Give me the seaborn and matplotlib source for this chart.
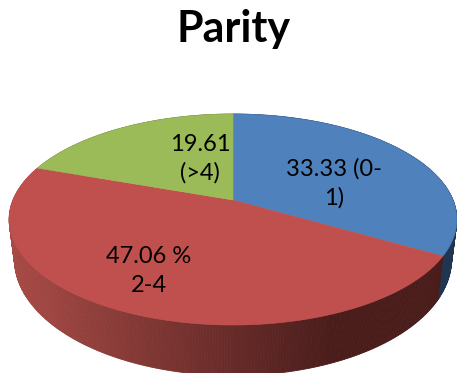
import numpy as np
import matplotlib
matplotlib.use("Agg")
import matplotlib.pyplot as plt
import seaborn as sns

# Parity distribution, clockwise from twelve o'clock
shares = [33.33, 47.06, 19.61]
slice_labels = ["33.33 (0-\n1)", "47.06 %\n2-4", "19.61\n(>4)"]
top_colors = ["#4F81BD", "#C0504D", "#9BBB59"]
wall_light = ["#2A4A70", "#A84A46", "#6F8A3E"]
wall_dark = ["#1F3552", "#4A1D1B", "#4F6329"]
label_xy = [(334, 183), (149, 271), (200, 159)]
chart_title = "Parity"

WIDTH, HEIGHT = 457, 373

# Perspective of the disc in figure pixels
CX, APEX_Y = 233.0, 200.0
PERSP = 0.185
SCALE_X, SCALE_Y = 220.0, 101.9
# Lower rim of the disc
FLOOR_Y, FLOOR_SX, FLOOR_SY = 238.0, 0.976, 1.10


def rim(theta):
    """Project a clockwise-from-top angle on the unit circle to the top face."""
    u, v = np.sin(theta), np.cos(theta)
    w = 1 + PERSP * v
    return CX + SCALE_X * u / w, APEX_Y - SCALE_Y * v / w


def floor(x, y):
    """Map a top-face point to the matching point on the lower rim."""
    return CX + FLOOR_SX * (x - CX), FLOOR_Y + FLOOR_SY * (y - APEX_Y)


sns.set_theme(style="white")
plt.rcParams["font.family"] = ["Lato", "DejaVu Sans"]

fig = plt.figure(figsize=(WIDTH / 100, HEIGHT / 100), dpi=100)
ax = fig.add_axes([0, 0, 1, 1])
ax.set_xlim(0, WIDTH)
ax.set_ylim(HEIGHT, 0)
ax.axis("off")

edges = np.concatenate([[0], np.cumsum(shares)]) / np.sum(shares) * 2 * np.pi

# Side wall, shaded strip by strip from left to right
for i in range(len(shares)):
    n = max(int((edges[i + 1] - edges[i]) * 90), 8)
    th = np.linspace(edges[i], edges[i + 1], n + 1)
    xs, ys = rim(th)
    fx, fy = floor(xs, ys)
    ramp = sns.blend_palette([wall_light[i], wall_dark[i]], 101)
    for k in range(n):
        xm = 0.5 * (xs[k] + xs[k + 1])
        t = np.clip((xm - 10) / 320, 0, 1)
        c = ramp[int(t * 100)]
        ax.fill([xs[k], xs[k + 1], fx[k + 1], fx[k]],
                [ys[k], ys[k + 1], fy[k + 1], fy[k]],
                color=c, lw=0.6, zorder=1)

# Top face
for i in range(len(shares)):
    th = np.linspace(edges[i], edges[i + 1], 200)
    xs, ys = rim(th)
    ax.fill(np.r_[CX, xs], np.r_[APEX_Y, ys], color=top_colors[i], lw=0.4, zorder=2)

for text, (x, y) in zip(slice_labels, label_xy):
    ax.text(x, y, text, ha="center", va="center", fontsize=17,
            color="black", linespacing=1.42, zorder=3)

ax.text(233.5, 29, chart_title, ha="center", va="center", fontsize=31,
        fontweight="bold", color="black")

fig.savefig("out.png", dpi=100)
